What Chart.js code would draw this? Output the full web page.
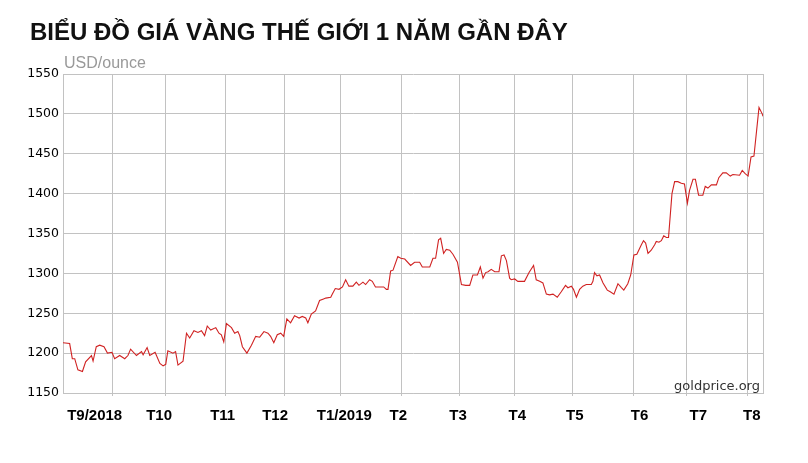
<!DOCTYPE html>
<html>
<head>
<meta charset="utf-8">
<script src="https://cdn.jsdelivr.net/npm/chart.js@4.4.1/dist/chart.umd.min.js"></script>
<style>
  body { margin: 0; background: #fff; }
  #wrap { position: relative; width: 808px; height: 463px; }
  #title { position: absolute; left: 30px; top: 20px; font: bold 24px/24px "Liberation Sans", Arial, sans-serif; color: #111; white-space: nowrap; }
  #unit { position: absolute; left: 64px; top: 55px; font: 16px/16px "Liberation Sans", Arial, sans-serif; color: #999; }
  #src { position: absolute; right: 48px; top: 379px; font: 13px/13px "DejaVu Sans", sans-serif; color: #333; }
  canvas { position: absolute; left: 0; top: 0; }
</style>
</head>
<body>
<div id="wrap">
  <canvas id="myChart" width="808" height="463"></canvas>
  <div id="title">BIỂU ĐỒ GIÁ VÀNG THẾ GIỚI 1 NĂM GẦN ĐÂY</div>
  <div id="unit">USD/ounce</div>
  <div id="src">goldprice.org</div>
</div>
<script>
// ngày giao dịch (đếm từ đầu chuỗi) và giá vàng USD/ounce
const days = [0, 2.5, 3.5, 4.4, 5.6, 7.3, 8.5, 10.7, 11.3, 12.5, 13.8, 15.4, 16.7, 18.4, 19.4, 21.3, 23.2, 24.4, 25.4, 27.6,
  29.5, 30.1, 31.6, 32.6, 34.6, 36.4, 37.6, 38.6, 39.4, 41.3, 42.3, 43.2, 45.1, 46.4, 47.6, 49.2, 50.7, 52.0, 53.2, 54.2,
  55.5, 57.4, 58.6, 59.5, 60.4, 61.4, 63.3, 64.5, 65.7, 66.4, 67.4, 69.1, 70.8, 72.4, 73.9, 75.5, 77.0, 78.0, 79.2, 80.5,
  81.8, 82.9, 84.1, 85.5, 87.0, 88.7, 89.9, 91.2, 92.0, 93.3, 94.9, 96.4, 97.9, 98.7, 100.6, 101.2, 102.3, 103.7, 105.0, 106.2,
  107.4, 108.9, 110.2, 111.2, 112.7, 113.7, 115.2, 116.2, 117.4, 119.6, 120.5, 121.5, 122.1, 123.1, 124.0, 125.8, 126.9, 128.4, 130.6, 132.1,
  134.0, 135.0, 137.8, 139.0, 140.0, 141.1, 141.9, 143.0, 144.0, 145.3, 146.5, 148.2, 149.7, 151.3, 152.8, 154.0, 155.7, 156.8, 157.8, 158.8,
  159.7, 160.9, 162.2, 163.8, 164.7, 165.7, 166.6, 167.8, 168.4, 169.7, 170.9, 173.4, 175.1, 176.8, 177.8, 179.1, 180.3, 181.6, 182.8, 184.1,
  185.7, 187.2, 188.8, 189.7, 191.0, 191.8, 192.9, 194.1, 195.3, 196.6, 198.5, 199.1, 199.7, 200.6, 201.6, 202.9, 204.5, 205.6, 207.0, 208.5,
  209.8, 210.7, 212.2, 213.3, 214.5, 215.6, 217.3, 218.1, 218.9, 219.8, 221.0, 222.3, 222.9, 223.9, 224.8, 225.7, 226.7, 227.5, 228.8, 229.8,
  231.0, 232.3, 233.5, 234.6, 235.4, 236.7, 237.6, 238.8, 240.4, 241.3, 242.3, 243.6, 245.5, 246.4, 247.9, 249.2, 250.7, 251.7, 254.2, 255.2,
  256.3, 257.4, 258.5, 259.6, 261.5, 262.7, 263];
const prices = [1213, 1212, 1193, 1193, 1179, 1177, 1189, 1197, 1190, 1208, 1210, 1208, 1200, 1201, 1193, 1197, 1193, 1197, 1205, 1197,
  1202, 1198, 1207, 1197, 1201, 1187, 1184, 1186, 1203, 1200, 1202, 1185, 1190, 1225, 1219, 1228, 1226, 1228, 1222, 1234,
  1229, 1232, 1225, 1223, 1214, 1237, 1232, 1225, 1227, 1222, 1208, 1200, 1210, 1221, 1220, 1227, 1225, 1221, 1213, 1223,
  1225, 1221, 1243, 1238, 1247, 1244, 1246, 1244, 1238, 1249, 1253, 1266, 1268, 1269, 1270, 1274, 1281, 1280, 1283, 1292,
  1284, 1284, 1289, 1285, 1289, 1286, 1292, 1290, 1283, 1283, 1283, 1280, 1280, 1303, 1304, 1321, 1319, 1318, 1310, 1314,
  1314, 1308, 1308, 1319, 1319, 1342, 1344, 1325, 1330, 1329, 1324, 1314, 1286, 1285, 1285, 1298, 1298, 1308, 1294, 1301,
  1302, 1305, 1302, 1302, 1322, 1323, 1316, 1294, 1292, 1293, 1290, 1290, 1301, 1310, 1292, 1290, 1288, 1274, 1273, 1274,
  1270, 1277, 1285, 1282, 1284, 1280, 1270, 1280, 1284, 1286, 1286, 1290, 1301, 1297, 1298, 1288, 1279, 1277, 1274, 1287,
  1282, 1279, 1287, 1298, 1323, 1324, 1336, 1341, 1338, 1325, 1329, 1336, 1340, 1339, 1341, 1347, 1345, 1345, 1400, 1415,
  1415, 1413, 1412, 1388, 1404, 1418, 1418, 1398, 1398, 1409, 1407, 1411, 1411, 1420, 1426, 1426, 1422, 1424, 1423, 1429,
  1425, 1422, 1446, 1447, 1508, 1500, 1497];

// đầu mỗi tháng (lưới dọc) và vị trí nhãn tháng
const monthStarts = [18.6, 38.4, 61.1, 83.3, 104.3, 127.1, 148.8, 169.8, 191.6, 214.5, 234.4, 257.3];
const labelPos = [11.9, 36.1, 60.0, 79.7, 105.7, 126.0, 148.4, 170.7, 192.3, 216.6, 238.7, 258.8];
const monthLabels = ['T9/2018', 'T10', 'T11', 'T12', 'T1/2019', 'T2', 'T3', 'T4', 'T5', 'T6', 'T7', 'T8'];

const gridColor = '#c2c2c2';

// khung bên phải vùng vẽ
const frame = {
  id: 'frame',
  beforeDatasetsDraw(chart) {
    const { ctx, chartArea } = chart;
    const x = Math.round(chartArea.right) + 0.5;
    ctx.save();
    ctx.strokeStyle = gridColor;
    ctx.lineWidth = 1;
    ctx.beginPath();
    ctx.moveTo(x, chartArea.top);
    ctx.lineTo(x, chartArea.bottom);
    ctx.stroke();
    ctx.restore();
  }
};

let ctx = document.getElementById('myChart').getContext('2d');
let chart = new Chart(ctx, {
  type: 'line',
  data: {
    datasets: [{
      data: days.map((d, i) => ({ x: d, y: prices[i] })),
      borderColor: '#d02222',
      borderWidth: 1.1,
      pointRadius: 0,
      tension: 0,
      xAxisID: 'x',
      yAxisID: 'y'
    }]
  },
  options: {
    responsive: false,
    animation: false,
    layout: { padding: { top: 74, right: 45, bottom: 35, left: 0 } },
    plugins: { legend: { display: false }, tooltip: { enabled: false } },
    scales: {
      x: {
        type: 'linear', position: 'bottom', min: 0, max: 263, weight: 0,
        afterBuildTicks: (s) => { s.ticks = monthStarts.map((v) => ({ value: v })); },
        afterFit: (s) => { s.height = 5; },
        grid: { color: gridColor, tickLength: 3 },
        border: { color: gridColor },
        ticks: { display: false }
      },
      x2: {
        type: 'linear', position: 'bottom', min: 0, max: 263, weight: 1,
        afterBuildTicks: (s) => { s.ticks = labelPos.map((v) => ({ value: v })); },
        afterFit: (s) => { s.height = 30; },
        grid: { display: false, drawTicks: false },
        border: { display: false },
        ticks: {
          autoSkip: false, maxRotation: 0, padding: 9, color: '#000',
          font: { family: 'Liberation Sans', size: 15, weight: 'bold' },
          callback: (v, i) => monthLabels[i]
        }
      },
      y: {
        min: 1150, max: 1550,
        afterFit: (s) => { s.width = 63; },
        grid: { color: gridColor, drawTicks: false },
        border: { color: gridColor },
        ticks: {
          stepSize: 50, padding: 4, color: '#000',
          font: { family: 'DejaVu Sans', size: 12.5 },
          callback: (v) => String(v)
        }
      }
    }
  },
  plugins: [frame]
});
</script>
</body>
</html>
